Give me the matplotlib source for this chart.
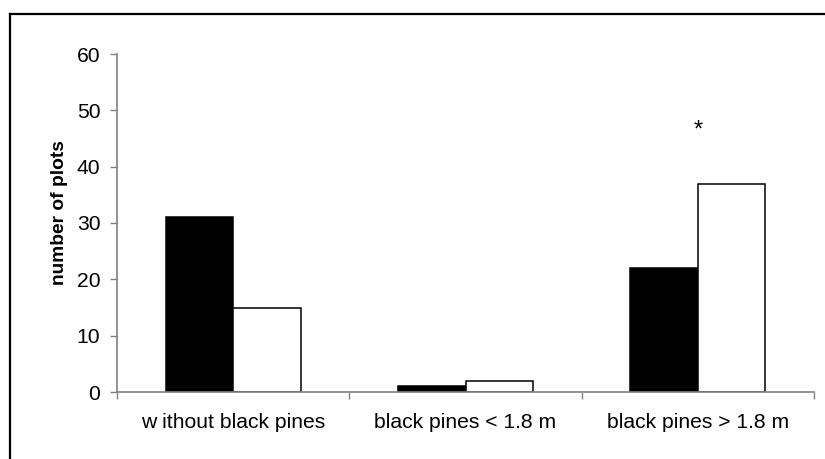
import matplotlib.pyplot as plt
from matplotlib.lines import Line2D
import numpy as np

plt.rcParams['font.family'] = ['Liberation Sans', 'DejaVu Sans']

categories = ["w ithout black pines", "black pines < 1.8 m", "black pines > 1.8 m"]
black_vals = [31, 1, 22]
white_vals = [15, 2, 37]
star_cat = 2
star_y = 46.5

fig = plt.figure(figsize=(8.25, 4.59), dpi=100)
ax = fig.add_axes([117 / 825, 1 - 392 / 459, (814 - 117) / 825, (392 - 54) / 459])

x = np.arange(len(categories))
w = 0.29
ax.bar(x - w / 2, black_vals, w, color="black", edgecolor="black", linewidth=1.1)
ax.bar(x + w / 2, white_vals, w, color="white", edgecolor="black", linewidth=1.1)

ax.text(star_cat, star_y, "*", ha="center", va="center", fontsize=17)

ax.set_xlim(-0.5, 2.5)
ax.set_ylim(0, 60)
ax.set_yticks(range(0, 61, 10))
ax.set_xticks([-0.5, 0.5, 1.5, 2.5], minor=False)
ax.set_xticklabels([])
ax.set_xticks(x, minor=True)
ax.set_xticklabels(categories, minor=True, fontsize=15.2)
ax.tick_params(axis="x", which="minor", length=0, pad=15)
ax.tick_params(axis="x", which="major", direction="out", length=5, color="#808080", width=1)
ax.tick_params(axis="y", direction="out", length=5, color="#808080", width=1, labelsize=15.2, pad=7)

for s in ["top", "right"]:
    ax.spines[s].set_visible(False)
for s in ["left", "bottom"]:
    ax.spines[s].set_color("#808080")
    ax.spines[s].set_linewidth(1.2)

ax.set_ylabel("number of plots", fontsize=13.8, fontweight="bold")
ax.yaxis.set_label_coords(-0.071, 0.53)

# outer chart frame
fx = 10 / 825
fy = 1 - 14 / 459
fig.add_artist(Line2D([fx, 1], [fy, fy], color="black", linewidth=1.6))
fig.add_artist(Line2D([fx, fx], [0, fy], color="black", linewidth=1.6))

fig.savefig("out.png", dpi=100)
